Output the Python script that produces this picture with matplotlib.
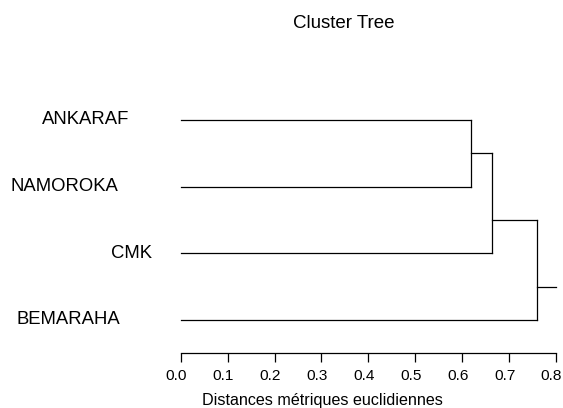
import matplotlib
matplotlib.use("Agg")
import matplotlib.pyplot as plt
import matplotlib.transforms as mtransforms

plt.rcParams['font.family'] = ['Liberation Sans', 'DejaVu Sans']

# leaves, top to bottom
labels = ["ANKARAF", "NAMOROKA", "CMK", "BEMARAHA"]
# merges: (child a, child b, height); nodes 0..3 are leaves, 4.. are merges
merges = [(0, 1, 0.618), (4, 2, 0.664), (5, 3, 0.760)]
root_end = 0.8
ticks = [0.0, 0.1, 0.2, 0.3, 0.4, 0.5, 0.6, 0.7, 0.8]

W, H = 563, 408
fig = plt.figure(figsize=(W / 100, H / 100), dpi=100)
ax = fig.add_axes([180.7 / W, 1 - 353.3 / H, (556 - 180.7) / W, (353.3 - 100) / H])

# node positions: leaves at 1..n, joins between last leaf of first child and next leaf
n = len(labels)
ypos = {i: i + 1 for i in range(n)}
xpos = {i: 0.0 for i in range(n)}
last_leaf = {i: i + 1 for i in range(n)}
for k, (a, b, h) in enumerate(merges):
    node = n + k
    ypos[node] = last_leaf[a] + 0.5
    xpos[node] = h
    last_leaf[node] = max(last_leaf[a], last_leaf[b])
    for c in (a, b):
        ax.plot([xpos[c], h], [ypos[c], ypos[c]], color='black', lw=0.9, clip_on=False)
    ax.plot([h, h], [ypos[a], ypos[b]], color='black', lw=0.9, clip_on=False)
root = n + len(merges) - 1
ax.plot([xpos[root], root_end], [ypos[root], ypos[root]], color='black', lw=0.9, clip_on=False)

ax.set_xlim(0, 0.8)
ax.set_ylim(4.5, 0.7)
for s in ('top', 'right', 'left'):
    ax.spines[s].set_visible(False)
ax.spines['bottom'].set_bounds(0, 0.8)
ax.spines['bottom'].set_linewidth(0.9)
ax.set_yticks([])
ax.set_xticks(ticks)
ax.set_xticklabels([f"{t:.1f}" for t in ticks])
ax.tick_params(axis='x', length=6.5, width=0.9, pad=5, labelsize=11.1)
# labels sit a little left of their ticks in the reference
shift = mtransforms.ScaledTranslation(-4.5 / 100, 0, fig.dpi_scale_trans)
for lab in ax.get_xticklabels():
    lab.set_transform(lab.get_transform() + shift)

# leaf labels (left edges in pixels)
label_left = [41.7, 10, 111, 16.7]
tr = mtransforms.blended_transform_factory(fig.transFigure, ax.transData)
for i, name in enumerate(labels):
    ax.text(label_left[i] / W, ypos[i], name, transform=tr, ha='left', va='center',
            fontsize=13.3)

fig.text(344 / W, 1 - 23 / H, "Cluster Tree", ha='center', va='center', fontsize=13.5)
fig.text(322.5 / W, 1 - 400 / H, "Distances métriques euclidiennes",
         ha='center', va='center', fontsize=11.6)

fig.savefig("out.png", dpi=100)
